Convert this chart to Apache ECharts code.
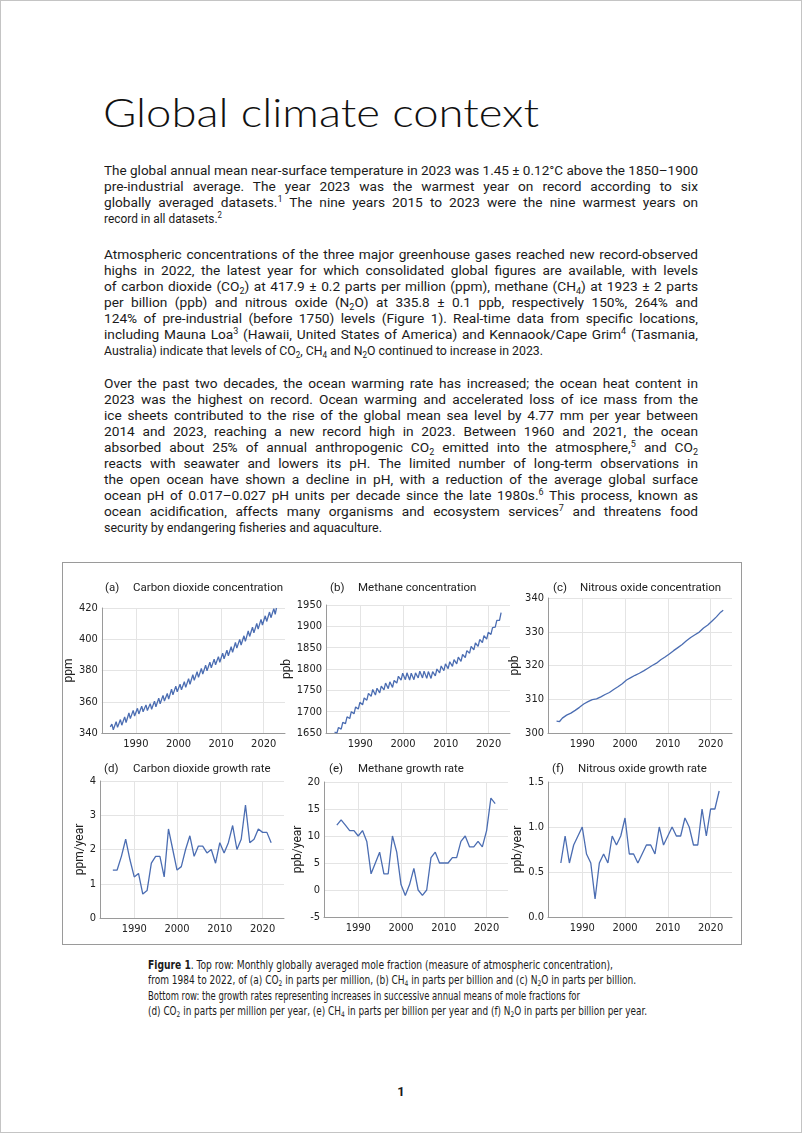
<!DOCTYPE html>
<html><head><meta charset="utf-8">
<script src="https://cdn.jsdelivr.net/npm/echarts@6/dist/echarts.min.js"></script>
<style>
html,body{margin:0;padding:0;background:#fff;}
#page{position:relative;width:802px;height:1133px;overflow:hidden;background:#fff;color:#1a1a1a;}
#frame{position:absolute;left:0;top:0;width:800px;height:1131px;border:1px solid #c4c4c4;pointer-events:none;}
#title{position:absolute;left:103px;top:88px;font-family:Lato,"Open Sans",sans-serif;font-weight:300;font-size:40px;line-height:48px;white-space:nowrap;color:#111;transform-origin:left center;}
.para{position:absolute;left:104px;width:594px;font-family:Roboto,"Liberation Sans",sans-serif;font-size:13.7px;}
.ln{height:16px;line-height:16px;white-space:nowrap;transform-origin:left center;}
sub,sup{font-size:0.66em;line-height:0;}
sub{vertical-align:-0.28em;}
sup{vertical-align:0.55em;}
#box{position:absolute;left:62px;top:562px;width:678px;height:381px;border:1px solid #9a9a9a;}
#chart{position:absolute;left:62px;top:562px;width:680px;height:383px;}
#cap{position:absolute;left:148px;top:958px;width:560px;font-family:"Liberation Sans Narrow","DejaVu Sans Condensed","Arial Narrow",sans-serif;font-size:11.6px;}
#cap .ln{height:15.3px;line-height:15.3px;}
#pnum{position:absolute;left:0;width:802px;top:1084px;text-align:center;font:bold 13px Roboto,sans-serif;}
</style></head>
<body>
<div id="page">
<div id="title" data-w="436" data-m="s"><span>Global climate context</span></div>

<div class="para" style="top:162px">
<div class="ln" data-w="594" data-m="j"><span>The global annual mean near-surface temperature in 2023 was 1.45 ± 0.12°C above the 1850–1900</span></div>
<div class="ln" data-w="594" data-m="j"><span>pre-industrial average. The year 2023 was the warmest year on record according to six</span></div>
<div class="ln" data-w="594" data-m="j"><span>globally averaged datasets.<sup>1</sup> The nine years 2015 to 2023 were the nine warmest years on</span></div>
<div class="ln" data-w="118" data-m="s"><span>record in all datasets.<sup>2</sup></span></div>
</div>

<div class="para" style="top:245.5px">
<div class="ln" data-w="594" data-m="j"><span>Atmospheric concentrations of the three major greenhouse gases reached new record-observed</span></div>
<div class="ln" data-w="594" data-m="j"><span>highs in 2022, the latest year for which consolidated global figures are available, with levels</span></div>
<div class="ln" data-w="594" data-m="j"><span>of carbon dioxide (CO<sub>2</sub>) at 417.9 ± 0.2 parts per million (ppm), methane (CH<sub>4</sub>) at 1923 ± 2 parts</span></div>
<div class="ln" data-w="594" data-m="j"><span>per billion (ppb) and nitrous oxide (N<sub>2</sub>O) at 335.8 ± 0.1 ppb, respectively 150%, 264% and</span></div>
<div class="ln" data-w="594" data-m="j"><span>124% of pre-industrial (before 1750) levels (Figure 1). Real-time data from specific locations,</span></div>
<div class="ln" data-w="594" data-m="j"><span>including Mauna Loa<sup>3</sup> (Hawaii, United States of America) and Kennaook/Cape Grim<sup>4</sup> (Tasmania,</span></div>
<div class="ln" data-w="439" data-m="s"><span>Australia) indicate that levels of CO<sub>2</sub>, CH<sub>4</sub> and N<sub>2</sub>O continued to increase in 2023.</span></div>
</div>

<div class="para" style="top:374.5px">
<div class="ln" data-w="594" data-m="j"><span>Over the past two decades, the ocean warming rate has increased; the ocean heat content in</span></div>
<div class="ln" data-w="594" data-m="j"><span>2023 was the highest on record. Ocean warming and accelerated loss of ice mass from the</span></div>
<div class="ln" data-w="594" data-m="j"><span>ice sheets contributed to the rise of the global mean sea level by 4.77 mm per year between</span></div>
<div class="ln" data-w="594" data-m="j"><span>2014 and 2023, reaching a new record high in 2023. Between 1960 and 2021, the ocean</span></div>
<div class="ln" data-w="594" data-m="j"><span>absorbed about 25% of annual anthropogenic CO<sub>2</sub> emitted into the atmosphere,<sup>5</sup> and CO<sub>2</sub></span></div>
<div class="ln" data-w="594" data-m="j"><span>reacts with seawater and lowers its pH. The limited number of long-term observations in</span></div>
<div class="ln" data-w="594" data-m="j"><span>the open ocean have shown a decline in pH, with a reduction of the average global surface</span></div>
<div class="ln" data-w="594" data-m="j"><span>ocean pH of 0.017–0.027 pH units per decade since the late 1980s.<sup>6</sup> This process, known as</span></div>
<div class="ln" data-w="594" data-m="j"><span>ocean acidification, affects many organisms and ecosystem services<sup>7</sup> and threatens food</span></div>
<div class="ln" data-w="278" data-m="s"><span>security by endangering fisheries and aquaculture.</span></div>
</div>

<div id="box"></div>
<div id="chart"></div>

<div id="cap">
<div class="ln" data-w="465" data-m="s"><span><b>Figure 1</b>. Top row: Monthly globally averaged mole fraction (measure of atmospheric concentration),</span></div>
<div class="ln" data-w="488" data-m="s"><span>from 1984 to 2022, of (a) CO<sub>2</sub> in parts per million, (b) CH<sub>4</sub> in parts per billion and (c) N<sub>2</sub>O in parts per billion.</span></div>
<div class="ln" data-w="432" data-m="s"><span>Bottom row: the growth rates representing increases in successive annual means of mole fractions for</span></div>
<div class="ln" data-w="499" data-m="s"><span>(d) CO<sub>2</sub> in parts per million per year, (e) CH<sub>4</sub> in parts per billion per year and (f) N<sub>2</sub>O in parts per billion per year.</span></div>
</div>

<div id="pnum">1</div>
<div id="frame"></div>
</div>

<script>
// ---------- data ----------
const years = [1984,1985,1986,1987,1988,1989,1990,1991,1992,1993,1994,1995,1996,1997,1998,1999,2000,2001,2002,2003,2004,2005,2006,2007,2008,2009,2010,2011,2012,2013,2014,2015,2016,2017,2018,2019,2020,2021,2022];

// CO2 (ppm): seasonal maxima (~May) and minima (~Sep) of each year
const co2Start = 343.9;
const co2Peak = [345.7,347.2,348.6,350.3,352.8,354.5,355.8,357.2,358.0,358.8,360.4,362.3,364.1,365.3,368.0,370.0,371.2,372.8,374.8,377.3,379.2,381.3,383.4,385.3,387.3,388.9,391.1,393.0,395.2,397.9,399.9,402.2,405.4,407.7,410.1,412.7,415.0,417.4,419.6];
const co2Trough = [342.1,343.6,345.0,346.7,349.2,350.9,352.2,353.6,354.4,355.2,356.8,358.7,360.5,361.7,364.4,366.4,367.6,369.2,371.2,373.7,375.6,377.7,379.8,381.7,383.7,385.3,387.5,389.4,391.6,394.3,396.3,398.6,401.8,404.1,406.5,409.1,411.4,413.8,416.0];
const co2End = 420.0;

// CH4 (ppb): seasonal minima (~Jul) and maxima (~Dec)
const ch4Start = 1652;
const ch4Trough = [1650,1659,1672,1684,1695,1706,1716,1727,1736,1739,1744,1751,1754,1757,1767,1774,1775,1774,1775,1779,1779,1778,1778,1784,1791,1796,1801,1806,1812,1818,1827,1837,1845,1853,1862,1870,1881,1898,1914];
const ch4Peak = [1663,1675,1688,1700,1711,1722,1732,1743,1752,1755,1760,1767,1770,1773,1783,1790,1791,1790,1791,1795,1795,1794,1794,1800,1807,1812,1817,1822,1828,1834,1843,1853,1861,1869,1878,1886,1897,1914,1932];

// N2O (ppb): small seasonal highs and lows
const n2oStart = 303.5;
const n2oHigh = [303.8,304.4,305.3,305.9,306.7,307.6,308.6,309.3,309.9,310.1,310.7,311.4,312.0,312.9,313.7,314.6,315.7,316.4,317.1,317.7,318.4,319.2,320.0,320.7,321.7,322.5,323.4,324.4,325.3,326.2,327.3,328.3,329.1,329.9,331.1,332.0,333.2,334.4,335.8];
const n2oLow = [303.4,304.0,304.9,305.5,306.3,307.2,308.2,308.9,309.5,309.7,310.3,311.0,311.6,312.5,313.3,314.2,315.3,316.0,316.7,317.3,318.0,318.8,319.6,320.3,321.3,322.1,323.0,324.0,324.9,325.8,326.9,327.9,328.7,329.5,330.7,331.6,332.8,334.0,335.4];
const n2oEnd = 336.4;

// growth rates, 1985-2022
const rateYears = [1985,1986,1987,1988,1989,1990,1991,1992,1993,1994,1995,1996,1997,1998,1999,2000,2001,2002,2003,2004,2005,2006,2007,2008,2009,2010,2011,2012,2013,2014,2015,2016,2017,2018,2019,2020,2021,2022];
const co2Rate = [1.4,1.4,1.8,2.3,1.7,1.2,1.3,0.7,0.8,1.6,1.8,1.8,1.2,2.6,2.0,1.4,1.5,2.0,2.4,1.8,2.1,2.1,1.9,2.0,1.6,2.2,1.9,2.2,2.7,2.0,2.3,3.3,2.2,2.3,2.6,2.5,2.5,2.2];
const ch4Rate = [12,13,12,11,11,10,11,9,3,5,7,3,3,10,7,1,-1,1,4,0,-1,0,6,7,5,5,5,6,6,9,10,8,8,9,8,11,17,16];
const n2oRate = [0.6,0.9,0.6,0.8,0.9,1.0,0.7,0.6,0.2,0.6,0.7,0.6,0.9,0.8,0.9,1.1,0.7,0.7,0.6,0.7,0.8,0.8,0.7,1.0,0.8,0.9,1.0,0.9,0.9,1.1,1.0,0.8,0.8,1.2,0.9,1.2,1.2,1.4];

// panel text
const panelLetters = ['(a)','(b)','(c)','(d)','(e)','(f)'];
const panelTitles = ['Carbon dioxide concentration','Methane concentration','Nitrous oxide concentration','Carbon dioxide growth rate','Methane growth rate','Nitrous oxide growth rate'];
const unitNames = ['ppm','ppb','ppb','ppm/year','ppb/year','ppb/year'];

// ---------- text fitting ----------
function fitText(){
  document.querySelectorAll('[data-w]').forEach(el=>{
    const t=parseFloat(el.dataset.w);
    const sp=el.querySelector('span');
    el.style.transform='none'; el.style.wordSpacing='0px';
    const w=sp.getBoundingClientRect().width;
    const txt=sp.textContent;
    const spaces=(txt.match(/ /g)||[]).length;
    const m=el.dataset.m;
    if(m==='j'){
      if(w>t) el.style.transform='scaleX('+(t/w)+')';
      else if(spaces) el.style.wordSpacing=((t-w)/spaces)+'px';
    } else {
      let s=t/w; s=Math.max(0.72,Math.min(1.15,s));
      el.style.transform='scaleX('+s+')';
    }
  });
}

// ---------- chart ----------
function buildChart(){
  const NARROW='"Liberation Sans Narrow","DejaVu Sans Condensed","Arial Narrow",sans-serif';
  const SANS='Roboto,"Liberation Sans",sans-serif';
  const LINE='#4b6db2', GRID='#e4e4e4', AXIS='#9a9a9a';

  const co2Data=[[1984.0,co2Start]];
  years.forEach((y,i)=>{co2Data.push([y+0.37,co2Peak[i]]);co2Data.push([y+0.70,co2Trough[i]]);});
  co2Data.push([2023.0,co2End]);
  const ch4Data=[[1984.0,ch4Start]];
  years.forEach((y,i)=>{ch4Data.push([y+0.55,ch4Trough[i]]);ch4Data.push([y+0.92,ch4Peak[i]]);});
  const n2oData=[[1984.0,n2oStart]];
  years.forEach((y,i)=>{n2oData.push([y+0.35,n2oHigh[i]]);n2oData.push([y+0.70,n2oLow[i]]);});
  n2oData.push([2022.95,n2oEnd]);
  const pair=(xs,vs)=>xs.map((x,i)=>[x,vs[i]]);

  const grids=[
    {left:39,top:46,width:184,height:125},
    {left:264,top:43,width:184,height:128},
    {left:486,top:36,width:184,height:135},
    {left:38,top:219,width:184,height:137},
    {left:262,top:220,width:184,height:135},
    {left:486,top:220,width:184,height:135}
  ];
  const yCfg=[
    {min:340,max:420,interval:20,gap:22},
    {min:1650,max:1950,interval:50,gap:26},
    {min:300,max:340,interval:10,gap:23},
    {min:0,max:4,interval:1,gap:14},
    {min:-5,max:20,interval:5,gap:18},
    {min:0,max:1.5,interval:0.5,gap:20,fmt:v=>v.toFixed(1)}
  ];
  const titlePos=[[43,26,71],[268,26,296],[491,26,518],[42,207,71],[267,207,296],[490,207,516]];

  const xAxis=grids.map((g,i)=>({
    type:'value',gridIndex:i,min:1982,max:2025,splitNumber:4,
    axisLine:{show:true,onZero:false,lineStyle:{color:AXIS,width:1}},
    axisTick:{show:false},
    axisLabel:{showMinLabel:false,showMaxLabel:false,color:'#222',fontFamily:NARROW,fontSize:11,margin:6,formatter:v=>String(v)},
    splitLine:{show:true,lineStyle:{color:['rgba(0,0,0,0)',GRID,GRID,GRID,GRID,'rgba(0,0,0,0)'],width:1}}
  }));
  const yAxis=yCfg.map((c,i)=>({
    type:'value',gridIndex:i,min:c.min,max:c.max,interval:c.interval,
    name:unitNames[i],nameLocation:'middle',nameGap:c.gap,nameRotate:90,
    nameTextStyle:{color:'#222',fontFamily:SANS,fontSize:12},
    axisLine:{show:true,onZero:false,lineStyle:{color:AXIS,width:1}},
    axisTick:{show:false},
    axisLabel:{color:'#222',fontFamily:NARROW,fontSize:11,margin:4,formatter:c.fmt||(v=>String(v))},
    splitLine:{show:true,lineStyle:{color:GRID,width:1}}
  }));
  const datas=[co2Data,ch4Data,n2oData,pair(rateYears,co2Rate),pair(rateYears,ch4Rate),pair(rateYears,n2oRate)];
  const series=datas.map((d,i)=>({
    type:'line',xAxisIndex:i,yAxisIndex:i,data:d,showSymbol:false,symbol:'none',
    lineStyle:{color:LINE,width:1.3},itemStyle:{color:LINE},clip:true,silent:true
  }));
  const graphic=[];
  titlePos.forEach((p,i)=>{
    graphic.push({type:'text',x:p[0],y:p[1],style:{text:panelLetters[i],fill:'#222',font:'11.5px '+SANS,verticalAlign:'middle',textVerticalAlign:'middle'}});
    graphic.push({type:'text',x:p[2],y:p[1],style:{text:panelTitles[i],fill:'#222',font:'11.5px '+SANS,verticalAlign:'middle',textVerticalAlign:'middle'}});
  });

  const chart=echarts.init(document.getElementById('chart'),null,{renderer:'canvas'});
  chart.setOption({animation:false,grid:grids,xAxis,yAxis,series,graphic});
}

buildChart();
fitText();
if(document.fonts&&document.fonts.ready){document.fonts.ready.then(fitText);}
window.addEventListener('load',fitText);
setTimeout(fitText,50);
setTimeout(fitText,300);
</script>
</body></html>
